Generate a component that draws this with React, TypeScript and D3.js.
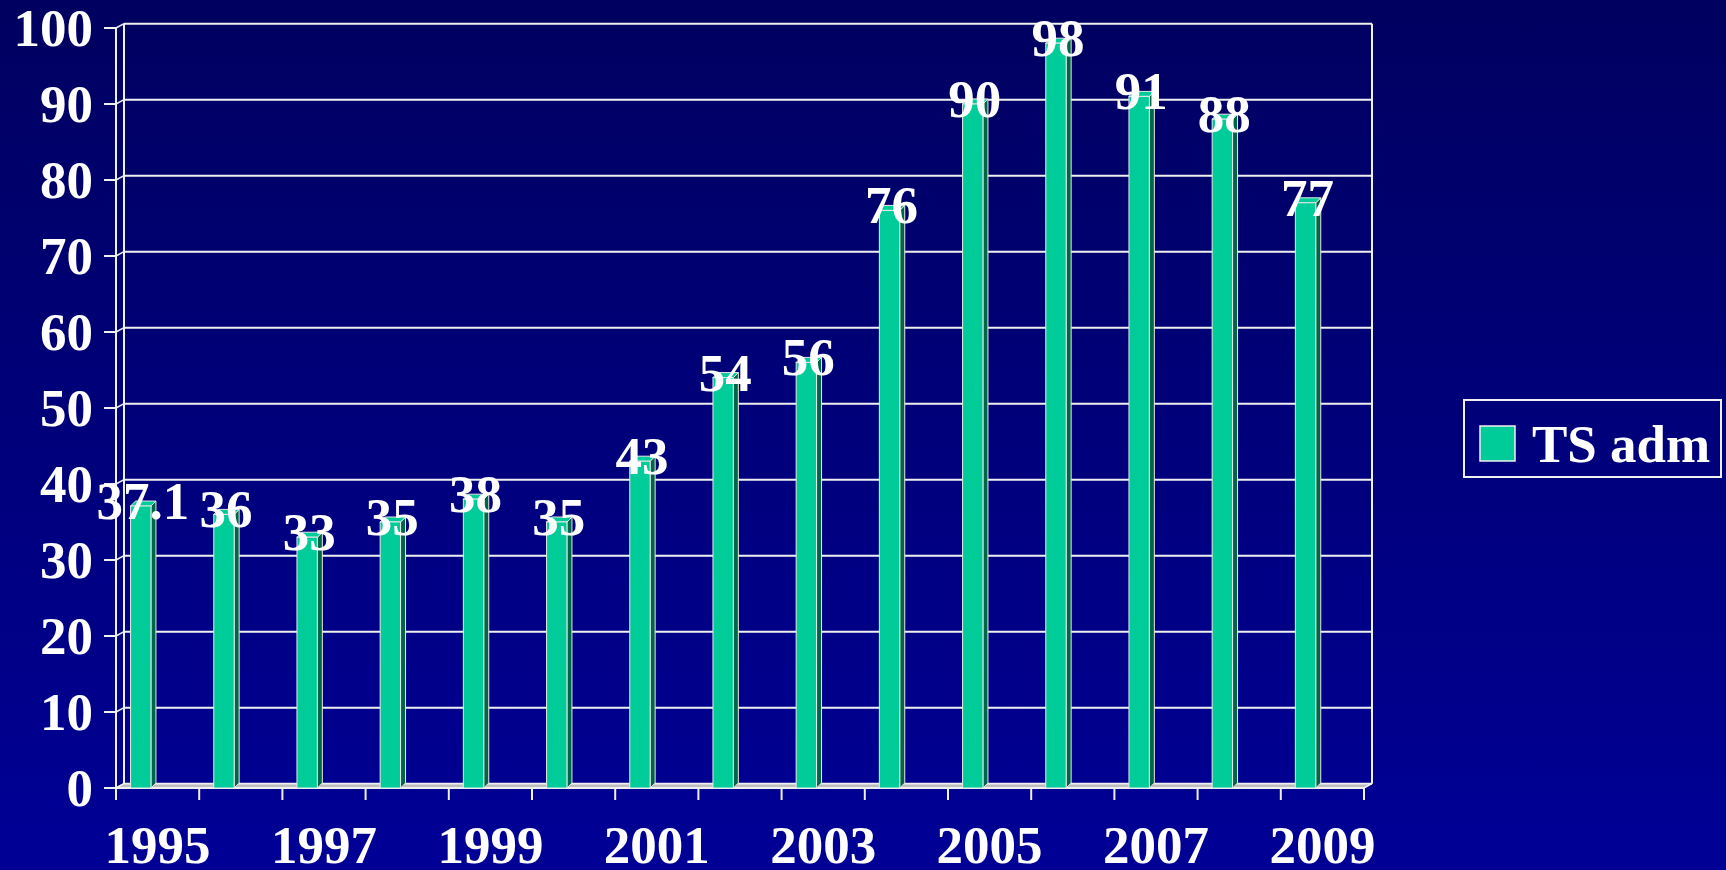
import React from "react";
import * as d3 from "d3";

const years = ["1995","1996","1997","1998","1999","2000","2001","2002","2003","2004","2005","2006","2007","2008","2009"];
const values = [37.1, 36, 33, 35, 38, 35, 43, 54, 56, 76, 90, 98, 91, 88, 77];
const labels = ["37.1","36","33","35","38","35","43","54","56","76","90","98","91","88","77"];
const yTicks = [0,10,20,30,40,50,60,70,80,90,100];
const xTickLabels = ["1995","1997","1999","2001","2003","2005","2007","2009"];
const seriesName = "TS adm";

const W = 1726, H = 870;
const FONT = "'Liberation Serif', 'Times New Roman', serif";
const DX = 8, DY = -4.3;

export default function App() {
  const x = d3.scaleBand<string>().domain(years).range([116, 1364]).padding(0);
  const y = d3.scaleLinear().domain([0, 100]).range([788, 28]);
  const bw = x.bandwidth();
  const y0 = y(0);
  const xL = 116, xR = 1364;
  const depth = 5;

  return (
    <div style={{ position: "fixed", left: 0, top: 0 }}>
      <svg width={W} height={H} style={{ display: "block" }}>
        <defs>
          <linearGradient id="bg" x1="0" y1="0" x2="0" y2="1">
            <stop offset="0" stopColor="#000060" />
            <stop offset="1" stopColor="#000096" />
          </linearGradient>
        </defs>
        <rect x={0} y={0} width={W} height={H} fill="url(#bg)" />

        {/* back wall gridlines */}
        {yTicks.map((t) => (
          <line key={"g" + t} x1={xL + DX} x2={xR + DX} y1={y(t) + DY} y2={y(t) + DY} stroke="#f0f0f0" strokeWidth={2} />
        ))}
        {/* back wall left & right */}
        <line x1={xL + DX} x2={xL + DX} y1={y(100) + DY} y2={y0 + DY} stroke="#f0f0f0" strokeWidth={2} />
        <line x1={xR + DX} x2={xR + DX} y1={y(100) + DY} y2={y0 + DY} stroke="#f0f0f0" strokeWidth={2} />
        {/* side wall diagonals */}
        {yTicks.map((t) => (
          <line key={"d" + t} x1={xL} x2={xL + DX} y1={y(t)} y2={y(t) + DY} stroke="#f0f0f0" strokeWidth={1.5} />
        ))}
        {/* floor */}
        <polygon
          points={`${xL},${y0} ${xR},${y0} ${xR + DX},${y0 + DY} ${xL + DX},${y0 + DY}`}
          fill="#bdbdbd" stroke="#f0f0f0" strokeWidth={1.5}
        />
        {/* front y axis */}
        <line x1={xL} x2={xL} y1={y(100)} y2={y0} stroke="#f0f0f0" strokeWidth={2} />
        <line x1={xL} x2={xR} y1={y0} y2={y0} stroke="#f0f0f0" strokeWidth={2} />
        {yTicks.map((t) => (
          <line key={"t" + t} x1={104} x2={xL} y1={y(t)} y2={y(t)} stroke="#f0f0f0" strokeWidth={2} />
        ))}
        {/* x ticks */}
        {years.map((yr) => (
          <line key={"xt" + yr} x1={x(yr)!} x2={x(yr)!} y1={y0} y2={y0 + 12} stroke="#f0f0f0" strokeWidth={2} />
        ))}
        <line x1={xR} x2={xR} y1={y0} y2={y0 + 12} stroke="#f0f0f0" strokeWidth={2} />

        {/* bars */}
        {years.map((yr, i) => {
          const x0 = x(yr)! + bw * 0.175;
          const w = bw * 0.245;
          const x1 = x0 + w;
          const yv = y(values[i]);
          return (
            <g key={"b" + yr}>
              <polygon
                points={`${x1},${yv} ${x1 + depth},${yv - depth} ${x1 + depth},${y0 - depth} ${x1},${y0}`}
                fill="#006644" stroke="#e8e8e8" strokeWidth={1}
              />
              <polygon
                points={`${x0},${yv} ${x0 + depth},${yv - depth} ${x1 + depth},${yv - depth} ${x1},${yv}`}
                fill="#00CC99" stroke="#e8e8e8" strokeWidth={1}
              />
              <rect x={x0} y={yv} width={w} height={y0 - yv} fill="#00CC99" stroke="#e8e8e8" strokeWidth={1} />
            </g>
          );
        })}

        {/* data labels */}
        {years.map((yr, i) => {
          const x0 = x(yr)! + bw * 0.175;
          const w = bw * 0.245;
          const yv = y(values[i]);
          return (
            <text key={"l" + yr} x={x0 + w / 2 + 2} y={yv - 5 + 18} textAnchor="middle"
              fontFamily={FONT} fontWeight="bold" fontSize={53} fill="#ffffff">
              {labels[i]}
            </text>
          );
        })}

        {/* y labels */}
        {yTicks.map((t) => (
          <text key={"yl" + t} x={93} y={y(t) + 18} textAnchor="end"
            fontFamily={FONT} fontWeight="bold" fontSize={53} fill="#ffffff">
            {t}
          </text>
        ))}
        {/* x labels */}
        {xTickLabels.map((lab) => (
          <text key={"xl" + lab} x={x(lab)! + bw / 2} y={863} textAnchor="middle"
            fontFamily={FONT} fontWeight="bold" fontSize={53} fill="#ffffff">
            {lab}
          </text>
        ))}

        {/* legend */}
        <rect x={1464} y={400} width={257} height={77} fill="none" stroke="#f0f0f0" strokeWidth={2} />
        <rect x={1480} y={426} width={35} height={35} fill="#00CC99" stroke="#f0f0f0" strokeWidth={1.5} />
        <text x={1532} y={462} fontFamily={FONT} fontWeight="bold" fontSize={53} fill="#ffffff">{seriesName}</text>
      </svg>
    </div>
  );
}
